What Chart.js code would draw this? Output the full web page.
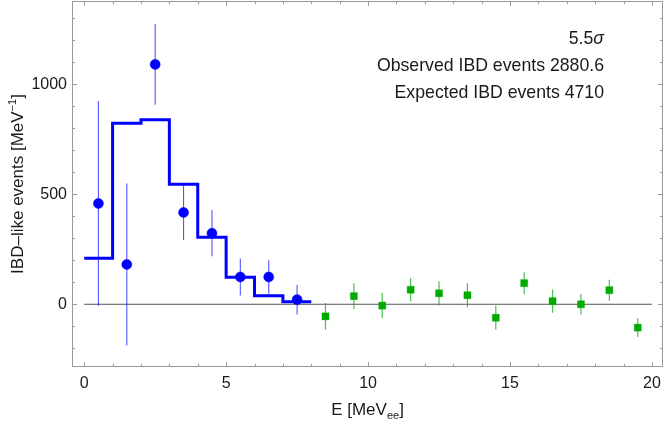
<!DOCTYPE html>
<html>
<head>
<meta charset="utf-8">
<script src="https://cdn.jsdelivr.net/npm/chart.js@4.4.1/dist/chart.umd.min.js"></script>
<style>
  html, body { margin: 0; padding: 0; background: #fff; }
</style>
</head>
<body>
<canvas id="chart" width="664" height="421"></canvas>
<script>
// Measured spectrum (blue circles), bin centres in MeV
let dataBins = [0.5, 1.5, 2.5, 3.5, 4.5, 5.5, 6.5, 7.5];
let dataValues = [458, 181, 1090, 417, 323, 124, 124, 21];
let dataErrors = [466, 368, 183, 125, 105, 84, 76, 67];

// Sideband bins above 8 MeV (green squares)
let sideBins = [8.5, 9.5, 10.5, 11.5, 12.5, 13.5, 14.5, 15.5, 16.5, 17.5, 18.5, 19.5];
let sideValues = [-55, 37, -6, 66, 50, 41, -61, 96, 14, 0, 64, -106];
let sideErrors = [61, 58, 57, 53, 55, 55, 55, 50, 53, 47, 48, 43];

// Expected spectrum histogram (bin edges 0..8)
let histEdges = [0, 1, 2, 3, 4, 5, 6, 7, 8];
let histValues = [209, 823, 838, 545, 305, 123, 39, 12];

// Axis ticks
let xTicks = [0, 5, 10, 15, 20];
let yTicks = [0, 500, 1000];

// Text in the top right corner
let sigmaLabel = '5.5';
let infoLines = ['Observed IBD events 2880.6', 'Expected IBD events 4710'];

let fontFamily = '"Liberation Sans", Arial, Helvetica, sans-serif';

//=======================================
//  Build datasets
//=======================================
function errorBarPoints(xs, ys, errs) {
  let pts = [];
  xs.forEach(function(x, i) {
    pts.push({x: x, y: ys[i] - errs[i]});
    pts.push({x: x, y: ys[i] + errs[i]});
    pts.push({x: x, y: null});
  });
  return pts;
}

// first point starts the first bin, every later edge closes the bin before it
let histPoints = histEdges.map(function(e, i) {
  return {x: e, y: histValues[Math.max(i - 1, 0)]};
});

let datasets = [
  {
    // zero line
    data: [{x: 0, y: 0}, {x: 20, y: 0}],
    borderColor: '#555555',
    borderWidth: 1,
    pointRadius: 0,
    order: 6
  },
  {
    data: histPoints,
    stepped: 'after',
    borderColor: '#0000ff',
    borderWidth: 3,
    pointRadius: 0,
    order: 5
  },
  {
    data: errorBarPoints(dataBins, dataValues, dataErrors),
    borderColor: 'rgba(30, 30, 255, 0.75)',
    borderWidth: 1.1,
    pointRadius: 0,
    spanGaps: false,
    order: 4
  },
  {
    data: errorBarPoints(sideBins, sideValues, sideErrors),
    borderColor: 'rgba(20, 170, 20, 0.75)',
    borderWidth: 1.2,
    pointRadius: 0,
    spanGaps: false,
    order: 3
  },
  {
    data: dataBins.map(function(x, i) { return {x: x, y: dataValues[i]}; }),
    showLine: false,
    pointRadius: 5,
    pointBackgroundColor: '#0000ff',
    pointBorderColor: 'rgba(0, 0, 255, 0.5)',
    pointBorderWidth: 1,
    order: 1
  },
  {
    data: sideBins.map(function(x, i) { return {x: x, y: sideValues[i]}; }),
    showLine: false,
    pointStyle: 'rect',
    pointRadius: 5,
    pointBackgroundColor: 'rgb(0, 170, 0)',
    pointBorderColor: 'rgba(0, 170, 0, 0.35)',
    pointBorderWidth: 1,
    order: 2
  }
];

//=======================================
//  Frame, inward ticks, titles, labels
//=======================================
let framePlugin = {
  id: 'frame',
  afterDraw: function(chart) {
    let ctx = chart.ctx;
    let a = chart.chartArea;
    let xs = chart.scales.x;
    let ys = chart.scales.y;

    ctx.save();
    ctx.strokeStyle = '#999999';
    ctx.lineWidth = 1;
    ctx.strokeRect(Math.round(a.left) + 0.5, Math.round(a.top) + 0.5,
      Math.round(a.right - a.left) - 1, Math.round(a.bottom - a.top) - 1);

    ctx.beginPath();
    for (let v = 0; v <= 20; v++) {
      let px = Math.round(xs.getPixelForValue(v)) + 0.5;
      let len = v % 5 === 0 ? 5 : 3;
      ctx.moveTo(px, a.bottom);
      ctx.lineTo(px, a.bottom - len);
      ctx.moveTo(px, a.top);
      ctx.lineTo(px, a.top + len);
    }
    for (let v = -200; v <= 1300; v += 100) {
      let py = Math.round(ys.getPixelForValue(v)) + 0.5;
      let len = v % 500 === 0 ? 5 : 3;
      ctx.moveTo(a.left, py);
      ctx.lineTo(a.left + len, py);
      ctx.moveTo(a.right, py);
      ctx.lineTo(a.right - len, py);
    }
    ctx.stroke();

    ctx.fillStyle = '#1a1a1a';

    // y title with superscript
    let big = '17px ' + fontFamily;
    let small = '11px ' + fontFamily;
    let yMain = 'IBD\u2013like events [MeV';
    let ySup = '\u22121';
    ctx.font = big;
    let w1 = ctx.measureText(yMain).width;
    let w3 = ctx.measureText(']').width;
    ctx.font = small;
    let w2 = ctx.measureText(ySup).width;
    let total = w1 + w2 + w3;
    ctx.translate(23, (a.top + a.bottom) / 2);
    ctx.rotate(-Math.PI / 2);
    ctx.textBaseline = 'alphabetic';
    ctx.textAlign = 'left';
    let x0 = -total / 2;
    ctx.font = big;
    ctx.fillText(yMain, x0, 0);
    ctx.font = small;
    ctx.fillText(ySup, x0 + w1, -7);
    ctx.font = big;
    ctx.fillText(']', x0 + w1 + w2, 0);
    ctx.setTransform(1, 0, 0, 1, 0, 0);

    // x title with subscript
    let xMain = 'E [MeV';
    let xSub = 'ee';
    ctx.font = big;
    let u1 = ctx.measureText(xMain).width;
    let u3 = ctx.measureText(']').width;
    ctx.font = small;
    let u2 = ctx.measureText(xSub).width;
    let xc = (a.left + a.right) / 2 - (u1 + u2 + u3) / 2;
    ctx.font = big;
    ctx.fillText(xMain, xc, 415);
    ctx.font = small;
    ctx.fillText(xSub, xc + u1, 419);
    ctx.font = big;
    ctx.fillText(']', xc + u1 + u2, 415);

    // annotation block
    let note = '17.7px ' + fontFamily;
    let rightX = 604;
    ctx.textAlign = 'right';
    ctx.font = 'italic 17.7px ' + fontFamily;
    let sw = ctx.measureText('\u03c3').width;
    ctx.fillText('\u03c3', rightX, 44);
    ctx.font = note;
    ctx.fillText(sigmaLabel, rightX - sw, 44);
    infoLines.forEach(function(t, i) {
      ctx.fillText(t, rightX, 71 + i * 27);
    });
    ctx.restore();
  }
};

//=======================================
//  Chart
//=======================================
let ctx = document.getElementById('chart');

let tickFont = {family: fontFamily, size: 16};

// scales should not push the plot area inwards for their end labels
function noPadding(s) {
  s.paddingTop = 0;
  s.paddingBottom = 0;
  s.paddingLeft = 0;
  s.paddingRight = 0;
}

let liveChart = new Chart(ctx, {
  type: 'line',
  data: {datasets: datasets},
  options: {
    responsive: false,
    animation: false,
    devicePixelRatio: 1,
    layout: {autoPadding: false, padding: {top: 1, right: 1, left: 0, bottom: 0}},
    plugins: {
      legend: {display: false},
      tooltip: {enabled: false}
    },
    scales: {
      x: {
        type: 'linear',
        min: -0.43,
        max: 20.39,
        afterBuildTicks: function(s) {
          s.ticks = xTicks.map(function(v) { return {value: v}; });
        },
        afterFit: function(s) { s.height = 54; noPadding(s); },
        ticks: {
          font: tickFont, color: '#1a1a1a', padding: 7, maxRotation: 0, autoSkip: false,
          callback: function(v) { return String(v); }
        },
        grid: {display: false, drawTicks: false},
        border: {display: false}
      },
      y: {
        type: 'linear',
        min: -285,
        max: 1378,
        afterBuildTicks: function(s) {
          s.ticks = yTicks.map(function(v) { return {value: v}; });
        },
        afterFit: function(s) { s.width = 72; noPadding(s); },
        ticks: {
          font: tickFont, color: '#1a1a1a', padding: 5,
          callback: function(v) { return String(v); }
        },
        grid: {display: false, drawTicks: false},
        border: {display: false}
      }
    }
  },
  plugins: [framePlugin]
});
</script>
</body>
</html>
